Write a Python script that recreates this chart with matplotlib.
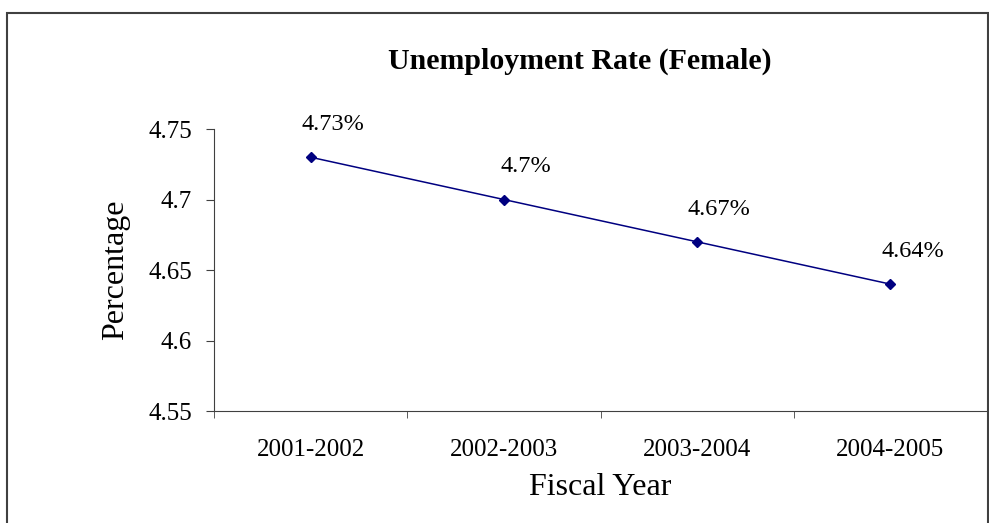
import matplotlib.pyplot as plt
from matplotlib.patches import Rectangle

years = ["2001-2002", "2002-2003", "2003-2004", "2004-2005"]
rate = [4.73, 4.70, 4.67, 4.64]
labels = ["4.73%", "4.7%", "4.67%", "4.64%"]

plt.rcParams["font.family"] = ["Liberation Serif", "DejaVu Serif"]

fig = plt.figure(figsize=(9.89, 5.23), dpi=100)
ax = fig.add_axes([0.2164, 0.2141, 0.7816, 0.5392])

x = list(range(len(years)))
ax.plot(x, rate, color="#000080", lw=1.1, marker="D", markersize=5.5)
for xi, yi, lab in zip(x, rate, labels):
    ax.annotate(lab, (xi, yi), xytext=(16, 16), textcoords="offset points",
                ha="center", va="bottom", fontsize=17.5)

ax.set_xlim(-0.5, 3.5)
ax.set_ylim(4.55, 4.75)
ax.set_yticks([4.55, 4.6, 4.65, 4.7, 4.75])
ax.set_yticklabels(["4.55", "4.6", "4.65", "4.7", "4.75"], fontsize=18)
ax.set_xticks(x)
ax.set_xticklabels(years, fontsize=18)
ax.set_xticks([-0.5, 0.5, 1.5, 2.5, 3.5], minor=True)
ax.tick_params(axis="x", which="major", length=0, pad=20)
ax.tick_params(axis="x", which="minor", length=5, direction="out", color="#404040")
ax.tick_params(axis="y", length=6, direction="out", color="#404040", pad=10)

for s in ["top", "right"]:
    ax.spines[s].set_visible(False)
for s in ["left", "bottom"]:
    ax.spines[s].set_color("#404040")

ax.set_ylabel("Percentage", fontsize=23, labelpad=13)
ax.set_xlabel("Fiscal Year", fontsize=23, labelpad=9)
fig.text(0.5865, 0.882, "Unemployment Rate (Female)", ha="center", va="center",
         fontsize=21.5, fontweight="bold")

fig.patches.append(Rectangle((7 / 989, -0.05), 981 / 989, 1 - 13 / 523 + 0.05,
                             transform=fig.transFigure, fill=False,
                             edgecolor="#404040", lw=1.5))

plt.savefig("out.png", dpi=100)
